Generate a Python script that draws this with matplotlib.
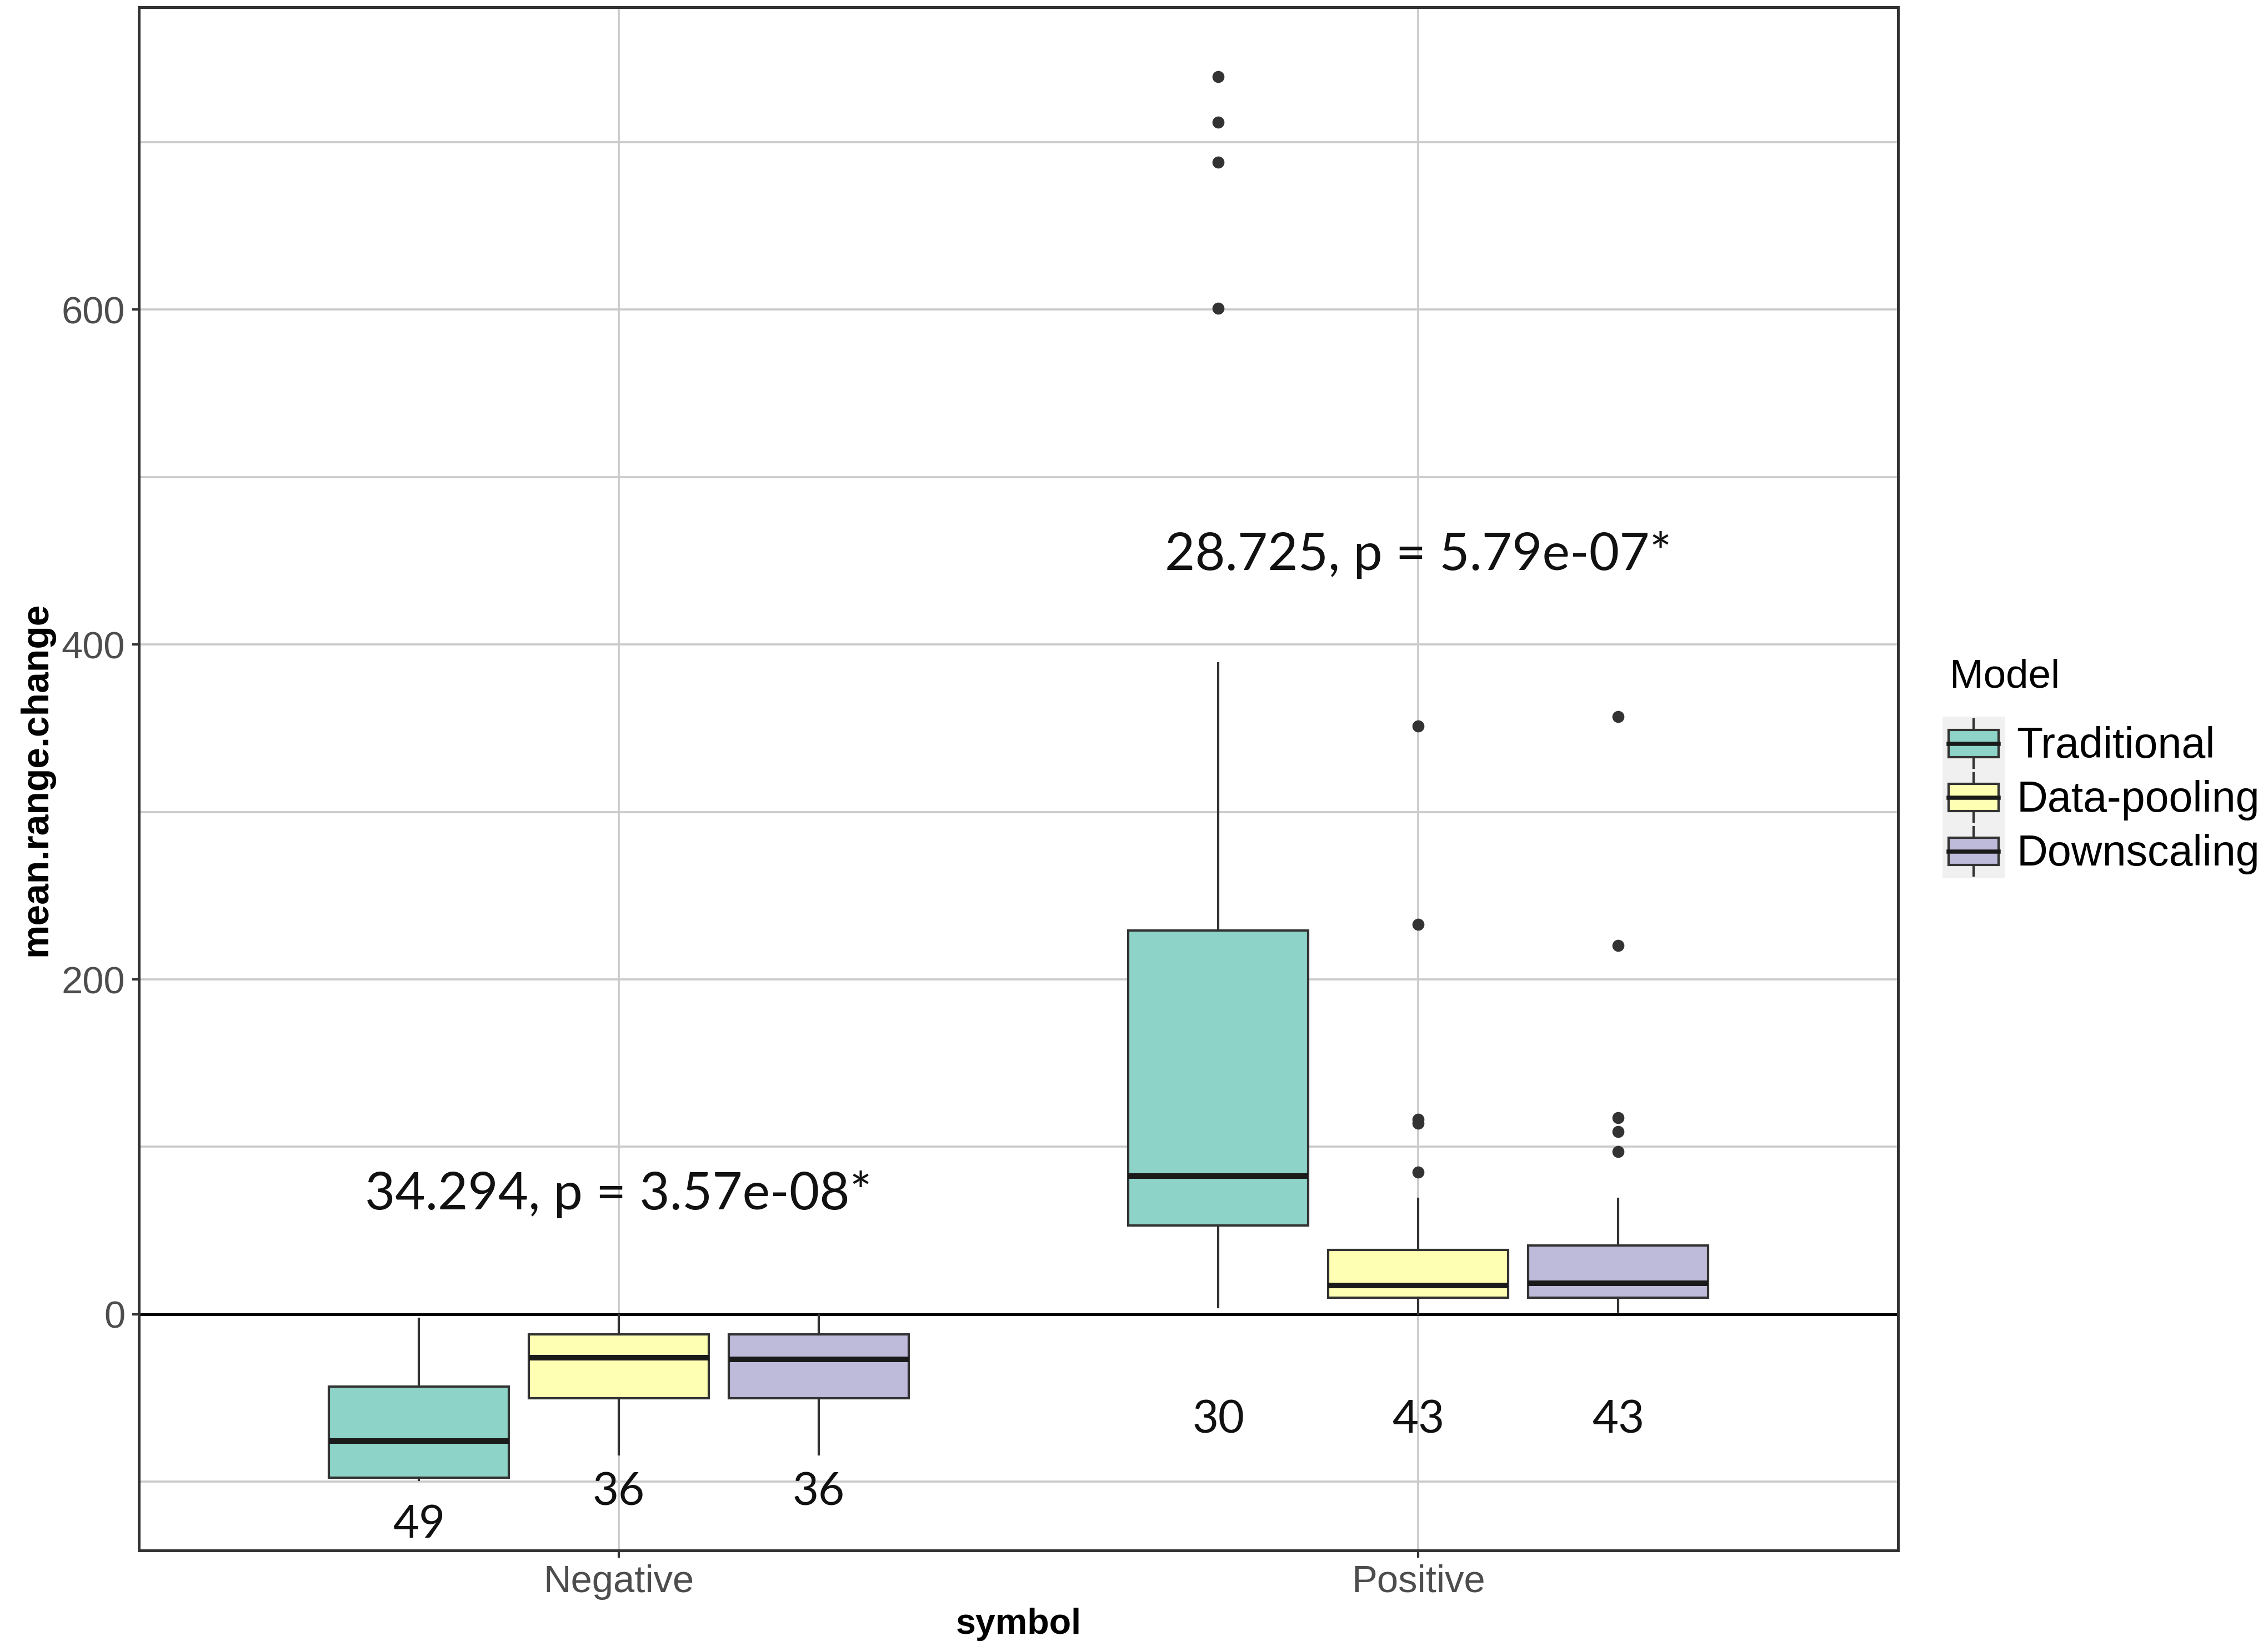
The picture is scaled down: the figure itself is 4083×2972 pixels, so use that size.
import matplotlib.pyplot as plt
from matplotlib.patches import Rectangle
from matplotlib.lines import Line2D
from matplotlib.legend_handler import HandlerBase

# categories and groups
symbols = ["Negative", "Positive"]
models = ["Traditional", "Data-pooling", "Downscaling"]
colors = ["#8DD3C7", "#FFFFB3", "#BEBADA"]

# box statistics: [symbol][model]
whis_lo = [[-99, -83.6, -83.6], [4.3, 0.3, 1.8]]
q1 = [[-97.5, -50.1, -50.1], [53.0, 9.9, 9.9]]
med = [[-75.7, -25.8, -26.8], [82.5, 17.2, 18.5]]
q3 = [[-43.2, -11.9, -11.9], [229.3, 38.6, 41.1]]
whis_hi = [[-2.7, -0.3, -0.3], [388.8, 69.0, 69.0]]
outliers = [[[], [], []],
            [[739, 712, 688, 600.6],
             [351.2, 232.8, 116.5, 114.2, 85.0],
             [356.8, 220.4, 117.3, 109.2, 97.2]]]

# group sizes and where they are printed
n_obs = [[49, 36, 36], [30, 43, 43]]
n_label_y = [[-125.7, -106.4, -106.4], [-63.2, -63.2, -63.2]]

# Kruskal-Wallis results
kw_text = ["34.294, p = 3.57e-08*", "28.725, p = 5.79e-07*"]
kw_y = [71.5, 453.5]

dodge = [-0.25, 0.0, 0.25]
box_w = 0.225

fig = plt.figure(figsize=(4083 / 300, 2972 / 300), dpi=300)
ax = fig.add_axes([250 / 4083, 1 - 2791 / 2972, (3417 - 250) / 4083, (2791 - 13) / 2972])

grid_col = "#cbcbcb"
dark = "#333333"

for i, sym in enumerate(symbols):
    for j, mod in enumerate(models):
        st = dict(med=med[i][j], q1=q1[i][j], q3=q3[i][j],
                  whislo=whis_lo[i][j], whishi=whis_hi[i][j],
                  fliers=outliers[i][j])
        ax.bxp([st], positions=[i + 1 + dodge[j]], widths=box_w,
               patch_artist=True, showcaps=False, manage_ticks=False,
               boxprops=dict(facecolor=colors[j], edgecolor=dark, linewidth=1.0),
               medianprops=dict(color="#1a1a1a", linewidth=2.4, solid_capstyle="butt"),
               whiskerprops=dict(color=dark, linewidth=1.0),
               flierprops=dict(marker="o", markerfacecolor=dark, markeredgecolor=dark,
                               markersize=4.2),
               zorder=3)
        ax.text(i + 1 + dodge[j], n_label_y[i][j], str(n_obs[i][j]),
                ha="center", va="center", fontsize=19.5, family="Lato", color="#111111")
    ax.text(i + 1, kw_y[i], kw_text[i], ha="center", va="center",
            fontsize=22.5, family="Lato", color="#111111")

ax.axhline(0, color="black", linewidth=1.2, zorder=2)

ax.set_xlim(0.4, 2.6)
ax.set_ylim(-141, 780.5)
ax.set_xticks([1, 2])
ax.set_xticklabels(symbols)
ax.set_yticks([0, 200, 400, 600])
ax.set_yticks([-100, 100, 300, 500, 700], minor=True)
ax.grid(True, which="both", color=grid_col, linewidth=0.9, zorder=0)
ax.set_axisbelow(True)
ax.tick_params(which="major", length=3, width=1, color=dark, labelsize=16.5,
               labelcolor="#4d4d4d", pad=3)
ax.tick_params(which="minor", length=0)
for t in ax.get_xticklabels() + ax.get_yticklabels():
    t.set_family("Liberation Sans")
for s in ax.spines.values():
    s.set_color(dark)
    s.set_linewidth(1.2)

fig.text(0.5 * (250 + 3417) / 4083, 1 - 2924 / 2972, "symbol", ha="center", va="center",
         fontsize=15.5, fontweight="bold", family="Liberation Sans")
fig.text(65 / 4083, 1 - (2791 + 13) / 2 / 2972, "mean.range.change", ha="center",
         va="center", rotation=90, fontsize=16.3, fontweight="bold", family="Liberation Sans")


class BoxKey(HandlerBase):
    def __init__(self, color):
        super().__init__()
        self.color = color

    def create_artists(self, legend, orig, xd, yd, w, h, fontsize, trans):
        x0, y0 = -xd, -yd
        bg = Rectangle((x0, y0), w, h, facecolor="#f0f0f0", edgecolor="none",
                       transform=trans)
        box = Rectangle((x0 + 0.1 * w, y0 + 0.25 * h), 0.8 * w, 0.5 * h,
                        facecolor=self.color, edgecolor=dark, linewidth=1.0,
                        transform=trans)
        mid = Line2D([x0 + 0.1 * w, x0 + 0.9 * w], [y0 + 0.5 * h] * 2,
                     color="#1a1a1a", linewidth=1.8, transform=trans)
        wl = Line2D([x0 + 0.5 * w] * 2, [y0 + 0.05 * h, y0 + 0.25 * h],
                    color=dark, linewidth=1.0, transform=trans)
        wh = Line2D([x0 + 0.5 * w] * 2, [y0 + 0.75 * h, y0 + 0.95 * h],
                    color=dark, linewidth=1.0, transform=trans)
        return [bg, wl, wh, box, mid]


# legend title drawn separately so its gap to the keys can be set
fig.text(3510 / 4083, 1 - 1219 / 2972, "Model", ha="left", va="center",
         fontsize=17.5, family="Liberation Sans")

handles = [Rectangle((0, 0), 1, 1, label=m) for m in models]
leg = fig.legend(handles, models, loc="upper left",
                 bbox_to_anchor=(3497 / 4083, 1 - 1290 / 2972),
                 handler_map={h: BoxKey(c) for h, c in zip(handles, colors)},
                 frameon=False,
                 prop={"family": "Liberation Sans", "size": 18.5},
                 handlelength=1.45, handleheight=1.56, labelspacing=0.0,
                 handletextpad=0.28, borderpad=0.0, borderaxespad=0.0)

fig.savefig("out.png", dpi=300, facecolor="white")
